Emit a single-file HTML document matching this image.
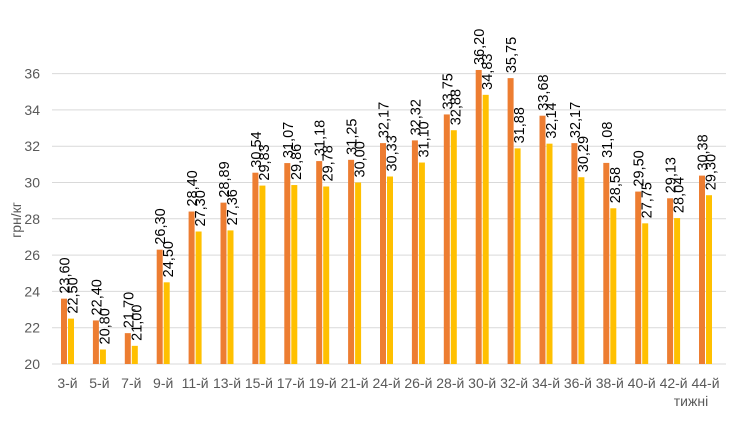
<!DOCTYPE html>
<html><head><meta charset="utf-8"><style>body{margin:0;background:#fff}</style></head>
<body>
<svg id="c" width="743" height="429" xmlns="http://www.w3.org/2000/svg" font-family="Liberation Sans, sans-serif">
<rect width="743" height="429" fill="#fff"/>
<g id="g"></g>
</svg>
<script>
const cats=["3-й","5-й","7-й","9-й","11-й","13-й","15-й","17-й","19-й","21-й","24-й","26-й","28-й","30-й","32-й","34-й","36-й","38-й","40-й","42-й","44-й"];
const o=[23.60,22.40,21.70,26.30,28.40,28.89,30.54,31.07,31.18,31.25,32.17,32.32,33.75,36.20,35.75,33.68,32.17,31.08,29.50,29.13,30.38];
const y2=[22.50,20.80,21.00,24.50,27.30,27.36,29.83,29.86,29.78,30.00,30.33,31.10,32.88,34.83,31.88,32.14,30.29,28.58,27.75,28.04,29.30];
const Y=v=>364-(v-20)*18.15;
let s='';
for(let v=20;v<=36;v+=2){const y=Y(v);s+=`<line x1="52" x2="726" y1="${y}" y2="${y}" stroke="#D9D9D9" stroke-width="1"/>`;
s+=`<text x="40" y="${y+5}" text-anchor="end" font-size="14" fill="#595959">${v}</text>`;}
const f=v=>v.toFixed(2).replace('.',',');
cats.forEach((c,i)=>{const cx=67.5+i*31.9;
 s+=`<rect x="${cx-6.5}" y="${Y(o[i])}" width="6" height="${364-Y(o[i])}" fill="#ED7D31"/>`;
 s+=`<rect x="${cx+0.5}" y="${Y(y2[i])}" width="6" height="${364-Y(y2[i])}" fill="#FFC000"/>`;
 s+=`<text transform="translate(${cx+2},${Y(o[i])-5}) rotate(-90)" font-size="14.5" fill="#000">${f(o[i])}</text>`;
 s+=`<text transform="translate(${cx+10},${Y(y2[i])-5}) rotate(-90)" font-size="14.5" fill="#000">${f(y2[i])}</text>`;
 s+=`<text x="${cx}" y="388" text-anchor="middle" font-size="14" fill="#595959">${c}</text>`;
});
s+=`<text x="691" y="406" text-anchor="middle" font-size="14" fill="#595959">тижні</text>`;
s+=`<text transform="translate(21,220) rotate(-90)" text-anchor="middle" font-size="14" fill="#595959">грн/кг</text>`;
document.getElementById('g').innerHTML=s;
</script>
</body></html>
